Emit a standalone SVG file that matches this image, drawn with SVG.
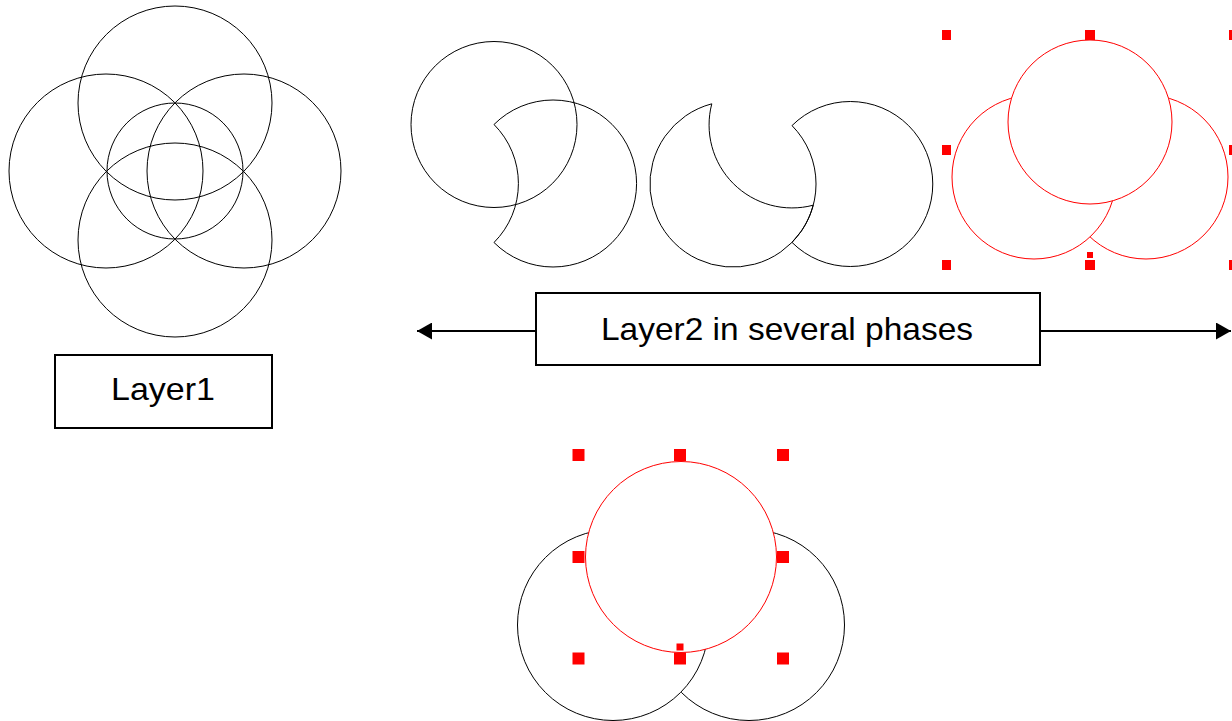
<svg xmlns="http://www.w3.org/2000/svg" width="1232" height="721" viewBox="0 0 1232 721">
<style>
.k{fill:none;stroke:#000;stroke-width:1}
.kw{fill:#fff;stroke:#000;stroke-width:1}
.r{fill:#fff;stroke:#f00;stroke-width:1}
.rw{fill:#fff;stroke:#f00;stroke-width:1}
.h{fill:#f00}
.box{fill:#fff;stroke:#000;stroke-width:2}
.lbl{font-family:"Liberation Sans",Arial,sans-serif;font-size:32px;fill:#000;text-anchor:middle}
.con{fill:none;stroke:#000;stroke-width:2}
</style>
<defs>
<marker id="ah" markerUnits="userSpaceOnUse" markerWidth="16" markerHeight="17" refX="15" refY="8.5" orient="auto" viewBox="0 0 16 17">
<path d="M0,0 L15,8.5 L0,17 Z" fill="#000"/>
</marker>
</defs>
<rect width="1232" height="721" fill="#fff"/>

<g id="layer1-figure">
<circle class="k" cx="175" cy="103" r="97"/>
<circle class="k" cx="106" cy="171" r="97"/>
<circle class="k" cx="244" cy="171" r="97"/>
<circle class="k" cx="175" cy="240" r="97"/>
<circle class="k" cx="175" cy="171" r="68"/>
</g>

<g id="layer1-label">
<rect class="box" x="55" y="355" width="217" height="73"/>
<text class="lbl" x="163" y="400" textLength="104" lengthAdjust="spacingAndGlyphs">Layer1</text>
</g>

<g id="phase1">
<circle class="k" cx="494" cy="124.5" r="83"/>
<path class="k" d="M494,124.5 A83.5,83.5 0 1 1 494,242.5 A83.5,83.5 0 0 0 494,124.5 Z"/>
</g>

<g id="phase2">
<path class="k" d="M711.8,103.8 A83,83 0 1 0 813.2,205.2 A83,83 0 0 1 711.8,103.8 Z"/>
<path class="k" d="M792,125.6 A82.5,82.5 0 1 1 792,242.4 A83,83 0 0 0 792,125.6 Z"/>
</g>

<g id="phase3">
<circle class="rw" cx="1146" cy="177" r="82"/>
<circle class="rw" cx="1034" cy="177" r="82"/>
<circle class="rw" cx="1090" cy="122" r="82"/>
<rect class="h" x="942" y="30" width="9" height="10"/>
<rect class="h" x="1085" y="30" width="10" height="10"/>
<rect class="h" x="1229" y="30" width="10" height="10"/>
<rect class="h" x="942" y="145" width="9" height="10"/>
<rect class="h" x="1229" y="145" width="10" height="10"/>
<rect class="h" x="942" y="260" width="9" height="10"/>
<rect class="h" x="1085" y="260" width="10" height="10"/>
<rect class="h" x="1229" y="260" width="10" height="10"/>
<rect class="h" x="1087" y="252" width="6" height="6"/>
</g>

<g id="phase4">
<circle class="kw" cx="749" cy="625" r="95.5"/>
<circle class="kw" cx="613" cy="625" r="95.5"/>
<circle class="rw" cx="681" cy="557" r="95.5"/>
<rect class="h" x="572.5" y="449" width="12" height="12"/>
<rect class="h" x="674" y="449" width="12" height="12"/>
<rect class="h" x="777" y="449" width="12" height="12"/>
<rect class="h" x="572.5" y="551" width="12" height="12"/>
<rect class="h" x="777" y="551" width="12" height="12"/>
<rect class="h" x="572.5" y="652.5" width="12" height="12"/>
<rect class="h" x="674" y="652.5" width="12" height="12"/>
<rect class="h" x="777" y="652.5" width="12" height="12"/>
<rect class="h" x="676.5" y="643.5" width="7" height="7"/>
</g>

<g id="layer2-label">
<rect class="box" x="536" y="293" width="504" height="72"/>
<text class="lbl" x="787" y="340" textLength="372" lengthAdjust="spacingAndGlyphs">Layer2 in several phases</text>
</g>

<g id="connectors">
<path class="con" d="M536,331 L417,331" marker-end="url(#ah)"/>
<path class="con" d="M1040,331 L1231,331" marker-end="url(#ah)"/>
</g>
</svg>
